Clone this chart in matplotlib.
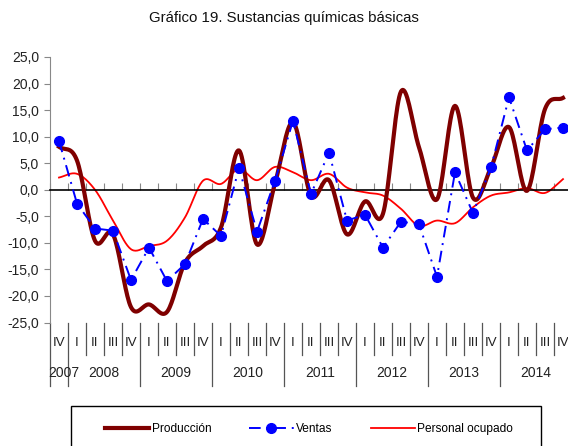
import numpy as np
import matplotlib
matplotlib.use("Agg")
import matplotlib.pyplot as plt
from matplotlib.patches import Rectangle

plt.rcParams["font.family"] = ["Liberation Sans", "DejaVu Sans"]

# data (tasa de variación, %)
quarters = ["IV"] + ["I", "II", "III", "IV"] * 7
years = ["2007", "2008", "2009", "2010", "2011", "2012", "2013", "2014"]
produccion = [8.1, 5.5, -9.6, -8.4, -22.1, -21.6, -23.0, -13.7, -10.6, -7.1,
              7.4, -10.3, 1.2, 12.7, -1.1, 1.8, -8.4, -2.2, -4.5, 18.5,
              8.0, -1.8, 15.8, -1.5, 4.2, 11.8, -0.2, 15.2, 17.3]
ventas = [9.2, -2.6, -7.3, -7.7, -17.0, -10.9, -17.2, -14.0, -5.5, -8.7,
          4.1, -7.9, 1.7, 13.0, -0.8, 7.0, -5.8, -4.7, -10.9, -6.0,
          -6.5, -16.4, 3.3, -4.4, 4.2, 17.4, 7.4, 11.4, 11.7]
personal = [2.3, 3.0, 0.0, -5.8, -11.2, -10.6, -9.6, -5.2, 1.7, 1.1,
            3.9, 1.8, 4.3, 3.3, 1.8, 3.0, 0.4, -0.5, -1.1, -3.6,
            -6.8, -5.8, -6.3, -3.3, -1.1, -0.5, 0.3, -0.6, 2.0]


def smooth(y, n=20):
    # Catmull-Rom curve through the points (like Excel's smoothed line)
    y = np.asarray(y, float)
    p = np.concatenate([[2 * y[0] - y[1]], y, [2 * y[-1] - y[-2]]])
    t = np.linspace(0, 1, n, endpoint=False)
    xs, ys = [], []
    for i in range(len(y) - 1):
        p0, p1, p2, p3 = p[i:i + 4]
        seg = 0.5 * (2 * p1 + (p2 - p0) * t
                     + (2 * p0 - 5 * p1 + 4 * p2 - p3) * t ** 2
                     + (-p0 + 3 * p1 - 3 * p2 + p3) * t ** 3)
        xs.append(i + t)
        ys.append(seg)
    xs.append([len(y) - 1])
    ys.append([y[-1]])
    return np.concatenate(xs), np.concatenate(ys)


x = np.arange(len(quarters))

fig = plt.figure(figsize=(5.68, 4.46), dpi=100)
ax = fig.add_axes([50 / 568, 1 - 322.5 / 446, 522 / 568, 265.5 / 446])

xs, ys = smooth(produccion)
ax.plot(xs, ys, color="#7f0000", lw=3.0, label="Producción", zorder=3)
ax.plot(x, ventas, color="#0000ff", lw=1.4, ls=(0, (6, 3, 1, 3)),
        marker="o", ms=7, label="Ventas", zorder=4)
xs, ys = smooth(personal)
ax.plot(xs, ys, color="#ff0000", lw=1.3, label="Personal ocupado", zorder=2)

ax.set_xlim(-0.5, len(quarters) - 0.5)
ax.set_ylim(-25, 25)
ax.set_yticks(np.arange(-25, 26, 5))
ax.set_yticklabels([f"{v:.1f}".replace(".", ",") for v in np.arange(-25, 26, 5)],
                   fontsize=10, color="#222222")
ax.tick_params(axis="y", direction="out", length=4, color="#888888", pad=4)

# category axis sits on the zero line, ticks at slot boundaries
ax.spines["bottom"].set_position(("data", 0))
ax.spines["bottom"].set_color("black")
ax.spines["bottom"].set_linewidth(1.2)
ax.set_xticks(np.arange(-0.5, len(quarters), 1))
ax.set_xticklabels([])
ax.tick_params(axis="x", direction="in", length=5, color="#888888")
ax.spines["left"].set_color("#888888")
ax.spines["top"].set_visible(False)
ax.spines["right"].set_visible(False)

# quarter / year labels below the plot
tr = ax.get_xaxis_transform()
for i, q in enumerate(quarters):
    ax.text(i, -0.077, q, transform=tr, ha="center", va="center",
            fontsize=9.5, color="#222222")
for b in np.arange(-0.5, len(quarters), 1):
    year_sep = (b - 0.5) % 4 == 0 or b == -0.5
    ax.plot([b, b], [0, -0.239 if year_sep else -0.122], transform=tr,
            color="#555555", lw=0.9, clip_on=False)
for k, yr in enumerate(years):
    pos = 0 if k == 0 else 4 * k - 1.5
    ax.text(pos + (0.25 if k == 0 else 0), -0.19, yr, transform=tr,
            ha="center", va="center", fontsize=10, color="#222222")

fig.text(0.5, 1 - 18 / 446, "Gráfico 19. Sustancias químicas básicas",
         ha="center", va="center", fontsize=10.8, color="#111111")

fig.patches.append(Rectangle((70.7 / 568, -0.1), (541 - 70.7) / 568,
                             0.1 + 1 - 406 / 446, transform=fig.transFigure,
                             fill=False, edgecolor="black", lw=1.0))
handles, labels = ax.get_legend_handles_labels()
fig.legend(handles, labels, loc="center", bbox_to_anchor=(0.544, 1 - 429 / 446),
           ncol=3, frameon=False, fontsize=8.6, handlelength=3.7,
           columnspacing=3.2, handletextpad=0.2, numpoints=1)

fig.savefig("out.png", dpi=100)
